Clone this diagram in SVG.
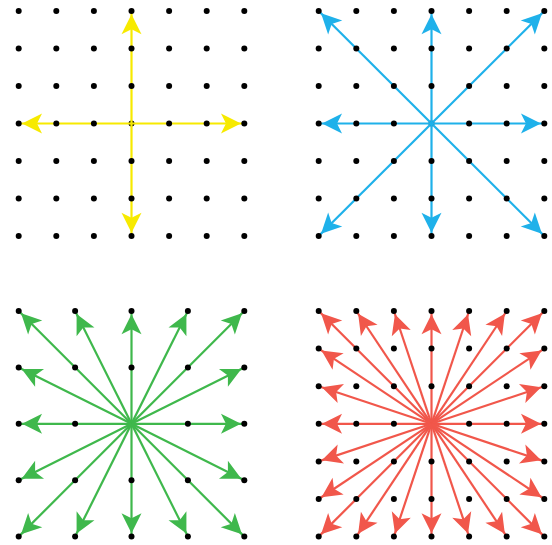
<svg xmlns="http://www.w3.org/2000/svg" width="552" height="545" viewBox="0 0 552 545">
<style>
.d{fill:#000}
.y{stroke:#f7ea00;stroke-width:2.2;fill:none;marker-end:url(#my)}
.b{stroke:#1fb1ea;stroke-width:2.2;fill:none;marker-end:url(#mb)}
.g{stroke:#3fb84c;stroke-width:2.2;fill:none;marker-end:url(#mg)}
.r{stroke:#f1574b;stroke-width:2.2;fill:none;marker-end:url(#mr)}
</style>
<defs>
<marker id="my" markerUnits="userSpaceOnUse" markerWidth="30" markerHeight="30" viewBox="-16 -8 18 16" refX="0" refY="0" orient="auto" overflow="visible"><path d="M-2,0 L-14,-6 L-11,0 L-14,6 Z" fill="#f7ea00"/></marker>
<marker id="mb" markerUnits="userSpaceOnUse" markerWidth="30" markerHeight="30" viewBox="-16 -8 18 16" refX="0" refY="0" orient="auto" overflow="visible"><path d="M-2,0 L-14,-6 L-11,0 L-14,6 Z" fill="#1fb1ea"/></marker>
<marker id="mg" markerUnits="userSpaceOnUse" markerWidth="30" markerHeight="30" viewBox="-16 -8 18 16" refX="0" refY="0" orient="auto" overflow="visible"><path d="M-2,0 L-14,-6 L-11,0 L-14,6 Z" fill="#3fb84c"/></marker>
<marker id="mr" markerUnits="userSpaceOnUse" markerWidth="30" markerHeight="30" viewBox="-16 -8 18 16" refX="0" refY="0" orient="auto" overflow="visible"><path d="M-2,0 L-14,-6 L-11,0 L-14,6 Z" fill="#f1574b"/></marker>
<g id="row7">
<circle class="d" cx="0" cy="0" r="3"/><circle class="d" cx="37.6" cy="0" r="3"/><circle class="d" cx="75.2" cy="0" r="3"/><circle class="d" cx="112.8" cy="0" r="3"/><circle class="d" cx="150.4" cy="0" r="3"/><circle class="d" cx="188" cy="0" r="3"/><circle class="d" cx="225.6" cy="0" r="3"/>
</g>
<g id="row7c">
<circle class="d" cx="0" cy="0" r="3"/><circle class="d" cx="37.6" cy="0" r="3"/><circle class="d" cx="75.2" cy="0" r="3"/><circle class="d" cx="150.4" cy="0" r="3"/><circle class="d" cx="188" cy="0" r="3"/><circle class="d" cx="225.6" cy="0" r="3"/>
</g>
<g id="row5">
<circle class="d" cx="0" cy="0" r="3"/><circle class="d" cx="56.4" cy="0" r="3"/><circle class="d" cx="112.8" cy="0" r="3"/><circle class="d" cx="169.2" cy="0" r="3"/><circle class="d" cx="225.6" cy="0" r="3"/>
</g>
<g id="row5c">
<circle class="d" cx="0" cy="0" r="3"/><circle class="d" cx="56.4" cy="0" r="3"/><circle class="d" cx="169.2" cy="0" r="3"/><circle class="d" cx="225.6" cy="0" r="3"/>
</g>
</defs>

<g id="centers">
<circle class="d" cx="131.5" cy="123.5" r="3"/>
<circle class="d" cx="431.5" cy="123.5" r="3"/>
<circle class="d" cx="131.5" cy="423.8" r="3"/>
<circle class="d" cx="431.5" cy="423.8" r="3"/>
</g>

<g id="connectors">
<g id="arrows-yellow">
<line class="y" x1="131.5" y1="123.5" x2="131.5" y2="11"/>
<line class="y" x1="131.5" y1="123.5" x2="131.5" y2="236"/>
<line class="y" x1="131.5" y1="123.5" x2="18.7" y2="123.5"/>
<line class="y" x1="131.5" y1="123.5" x2="244.3" y2="123.5"/>
</g>
<g id="arrows-blue">
<line class="b" x1="431.5" y1="123.5" x2="318.7" y2="11"/>
<line class="b" x1="431.5" y1="123.5" x2="431.5" y2="11"/>
<line class="b" x1="431.5" y1="123.5" x2="544.3" y2="11"/>
<line class="b" x1="431.5" y1="123.5" x2="318.7" y2="123.5"/>
<line class="b" x1="431.5" y1="123.5" x2="544.3" y2="123.5"/>
<line class="b" x1="431.5" y1="123.5" x2="318.7" y2="236"/>
<line class="b" x1="431.5" y1="123.5" x2="431.5" y2="236"/>
<line class="b" x1="431.5" y1="123.5" x2="544.3" y2="236"/>
</g>
<g id="arrows-green">
<line class="g" x1="131.5" y1="423.8" x2="18.7" y2="311"/>
<line class="g" x1="131.5" y1="423.8" x2="75.1" y2="311"/>
<line class="g" x1="131.5" y1="423.8" x2="131.5" y2="311"/>
<line class="g" x1="131.5" y1="423.8" x2="187.9" y2="311"/>
<line class="g" x1="131.5" y1="423.8" x2="244.3" y2="311"/>
<line class="g" x1="131.5" y1="423.8" x2="18.7" y2="536.6"/>
<line class="g" x1="131.5" y1="423.8" x2="75.1" y2="536.6"/>
<line class="g" x1="131.5" y1="423.8" x2="131.5" y2="536.6"/>
<line class="g" x1="131.5" y1="423.8" x2="187.9" y2="536.6"/>
<line class="g" x1="131.5" y1="423.8" x2="244.3" y2="536.6"/>
<line class="g" x1="131.5" y1="423.8" x2="18.7" y2="367.4"/>
<line class="g" x1="131.5" y1="423.8" x2="18.7" y2="423.8"/>
<line class="g" x1="131.5" y1="423.8" x2="18.7" y2="480.2"/>
<line class="g" x1="131.5" y1="423.8" x2="244.3" y2="367.4"/>
<line class="g" x1="131.5" y1="423.8" x2="244.3" y2="423.8"/>
<line class="g" x1="131.5" y1="423.8" x2="244.3" y2="480.2"/>
</g>
<g id="arrows-red">
<line class="r" x1="431.5" y1="423.8" x2="318.7" y2="311"/>
<line class="r" x1="431.5" y1="423.8" x2="356.3" y2="311"/>
<line class="r" x1="431.5" y1="423.8" x2="393.9" y2="311"/>
<line class="r" x1="431.5" y1="423.8" x2="431.5" y2="311"/>
<line class="r" x1="431.5" y1="423.8" x2="469.1" y2="311"/>
<line class="r" x1="431.5" y1="423.8" x2="506.7" y2="311"/>
<line class="r" x1="431.5" y1="423.8" x2="544.3" y2="311"/>
<line class="r" x1="431.5" y1="423.8" x2="318.7" y2="536.6"/>
<line class="r" x1="431.5" y1="423.8" x2="356.3" y2="536.6"/>
<line class="r" x1="431.5" y1="423.8" x2="393.9" y2="536.6"/>
<line class="r" x1="431.5" y1="423.8" x2="431.5" y2="536.6"/>
<line class="r" x1="431.5" y1="423.8" x2="469.1" y2="536.6"/>
<line class="r" x1="431.5" y1="423.8" x2="506.7" y2="536.6"/>
<line class="r" x1="431.5" y1="423.8" x2="544.3" y2="536.6"/>
<line class="r" x1="431.5" y1="423.8" x2="318.7" y2="348.6"/>
<line class="r" x1="431.5" y1="423.8" x2="318.7" y2="386.2"/>
<line class="r" x1="431.5" y1="423.8" x2="318.7" y2="423.8"/>
<line class="r" x1="431.5" y1="423.8" x2="318.7" y2="461.4"/>
<line class="r" x1="431.5" y1="423.8" x2="318.7" y2="499"/>
<line class="r" x1="431.5" y1="423.8" x2="544.3" y2="348.6"/>
<line class="r" x1="431.5" y1="423.8" x2="544.3" y2="386.2"/>
<line class="r" x1="431.5" y1="423.8" x2="544.3" y2="423.8"/>
<line class="r" x1="431.5" y1="423.8" x2="544.3" y2="461.4"/>
<line class="r" x1="431.5" y1="423.8" x2="544.3" y2="499"/>
</g>
</g>

<g id="grid-top-left">
<use href="#row7" x="18.7" y="11"/><use href="#row7" x="18.7" y="48.5"/><use href="#row7" x="18.7" y="86"/><use href="#row7c" x="18.7" y="123.5"/><use href="#row7" x="18.7" y="161"/><use href="#row7" x="18.7" y="198.5"/><use href="#row7" x="18.7" y="236"/>
</g>
<g id="grid-top-right">
<use href="#row7" x="318.7" y="11"/><use href="#row7" x="318.7" y="48.5"/><use href="#row7" x="318.7" y="86"/><use href="#row7c" x="318.7" y="123.5"/><use href="#row7" x="318.7" y="161"/><use href="#row7" x="318.7" y="198.5"/><use href="#row7" x="318.7" y="236"/>
</g>
<g id="grid-bottom-left">
<use href="#row5" x="18.7" y="311"/><use href="#row5" x="18.7" y="367.4"/><use href="#row5c" x="18.7" y="423.8"/><use href="#row5" x="18.7" y="480.2"/><use href="#row5" x="18.7" y="536.6"/>
</g>
<g id="grid-bottom-right">
<use href="#row7" x="318.7" y="311"/><use href="#row7" x="318.7" y="348.6"/><use href="#row7" x="318.7" y="386.2"/><use href="#row7c" x="318.7" y="423.8"/><use href="#row7" x="318.7" y="461.4"/><use href="#row7" x="318.7" y="499"/><use href="#row7" x="318.7" y="536.6"/>
</g>
</svg>
